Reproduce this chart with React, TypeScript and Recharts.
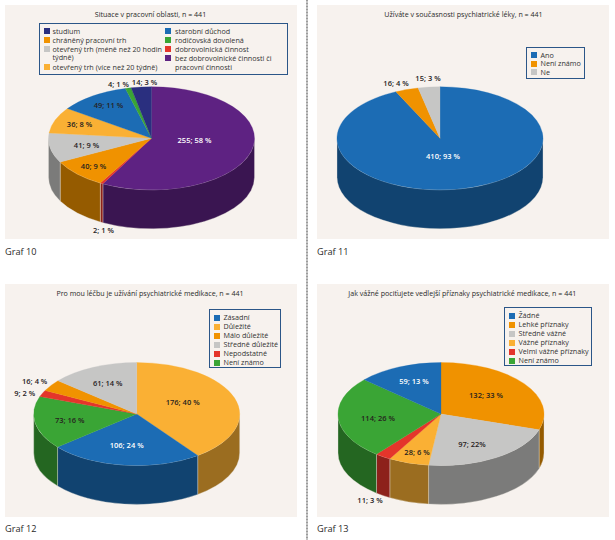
import React from "react";
import { PieChart, Pie, Cell, Legend } from "recharts";

const FONT = '"Open Sans", "Noto Sans", sans-serif';
const NAVY = "#2a2f7f", BLUE = "#1c6cb4", GREEN = "#3aa535", ORANGE = "#f09200", GRAY = "#c6c6c5", YELLOW = "#fab034", RED = "#e4352b", PURPLE = "#5e2282";
const PANEL_BG = "#f7f2ee";

const names10 = ["bez dobrovolnické činnosti či pracovní činnosti", "dobrovolnická činnost", "chráněný pracovní trh", "otevřený trh (méně než 20 hodin týdně)", "otevřený trh (více než 20 týdně)", "starobní důchod", "rodičovská dovolená", "studium"];
const values10 = [255, 2, 40, 41, 36, 49, 4, 14];
const labels10 = ["255; 58 %", "2; 1 %", "40; 9 %", "41; 9 %", "36; 8 %", "49; 11 %", "4; 1 %", "14; 3 %"];
const colors10 = [PURPLE, RED, ORANGE, GRAY, YELLOW, BLUE, GREEN, NAVY];

const names11 = ["Ano", "Není známo", "Ne"];
const values11 = [410, 16, 15];
const labels11 = ["410; 93 %", "16; 4 %", "15; 3 %"];
const colors11 = [BLUE, ORANGE, GRAY];

const names12 = ["Důležité", "Zásadní", "Není známo", "Nepodstatné", "Málo důležité", "Středně důležité"];
const values12 = [176, 106, 73, 9, 16, 61];
const labels12 = ["176; 40 %", "106; 24 %", "73; 16 %", "9; 2 %", "16; 4 %", "61; 14 %"];
const colors12 = [YELLOW, BLUE, GREEN, RED, ORANGE, GRAY];

const names13 = ["Lehké příznaky", "Středně vážné", "Vážné příznaky", "Velmi vážné příznaky", "Není známo", "Žádné"];
const values13 = [132, 97, 28, 11, 114, 59];
const labels13 = ["132; 33 %", "97; 22%", "28; 6 %", "11; 3 %", "114; 26 %", "59; 13 %"];
const colors13 = [ORANGE, GRAY, YELLOW, RED, GREEN, BLUE];

const legend10: [string, string, number, number][] = [
  ["studium", NAVY, 0, 0],
  ["chráněný pracovní trh", ORANGE, 0, 1],
  ["otevřený trh (méně než 20 hodin týdně)", GRAY, 0, 2],
  ["otevřený trh (více než 20 týdně)", YELLOW, 0, 4],
  ["starobní důchod", BLUE, 1, 0],
  ["rodičovská dovolená", GREEN, 1, 1],
  ["dobrovolnická činnost", RED, 1, 2],
  ["bez dobrovolnické činnosti či pracovní činnosti", PURPLE, 1, 3],
];
const legend11 = [["Ano", BLUE], ["Není známo", ORANGE], ["Ne", GRAY]];
const legend12 = [["Zásadní", BLUE], ["Důležité", YELLOW], ["Málo důležité", ORANGE], ["Středně důležité", GRAY], ["Nepodstatné", RED], ["Není známo", GREEN]];
const legend13 = [["Žádné", BLUE], ["Lehké příznaky", ORANGE], ["Středně vážné", GRAY], ["Vážné příznaky", YELLOW], ["Velmi vážné příznaky", RED], ["Není známo", GREEN]];

const labelOffsets10 = [[43, 2], [-48, 92], [-58, 28], [-65, 7], [-72, -14], [-43, -33], [-33, -54], [-7, -56]];
const labelOffsets11 = [[3, 18], [-44, -55], [-12, -60]];
const labelOffsets12 = [[46, -12], [-10, 31], [-67, 6], [-112, -21], [-102, -33], [-29, -31]];
const labelOffsets13 = [[45, -19], [31, 30], [-24, 38], [-71, 86], [-63, 4], [-27, -33]];
const whiteLabels = new Set(["255; 58 %", "410; 93 %", "106; 24 %", "59; 13 %"]);

const RATIO = 0.5;
const DEPTH = 39;
const darken = (hex: string) => {
  const n = parseInt(hex.slice(1), 16);
  const c = (s: number) => Math.round(((n >> s) & 255) * 0.62);
  return `rgb(${c(16)},${c(8)},${c(0)})`;
};

function Slice3D(props: any) {
  const { cx, cy, outerRadius: rx, startAngle: s, endAngle: e, fill } = props;
  const ry = rx * RATIO;
  const pt = (a: number, d = 0) => {
    const r = (a * Math.PI) / 180;
    return `${cx + rx * Math.cos(r)} ${cy - ry * Math.sin(r) + d}`;
  };
  const top = `M${cx} ${cy} L${pt(s)} A${rx} ${ry} 0 ${s - e > 180 ? 1 : 0} 1 ${pt(e)} Z`;
  const hi = Math.min(s, 0);
  const lo = Math.max(e, -180);
  const large = hi - lo > 180 ? 1 : 0;
  const wall = hi > lo
    ? `M${pt(hi)} A${rx} ${ry} 0 ${large} 1 ${pt(lo)} L${pt(lo, DEPTH)} A${rx} ${ry} 0 ${large} 0 ${pt(hi, DEPTH)} Z`
    : null;
  return (
    <g>
      {wall && <path d={wall} fill={darken(fill)} stroke="#e9e4dc" strokeWidth={0.35} />}
      <path d={top} fill={fill} stroke={fill} strokeWidth={0.3} />
    </g>
  );
}

function Panel(p: any) {
  const data = p.names.map((name: string, i: number) => ({ name, value: p.values[i] }));
  const renderLabel = (l: any) => {
    const [dx, dy] = p.offsets[l.index];
    const txt = p.labels[l.index];
    return (
      <text x={l.cx + dx} y={l.cy + dy} textAnchor="middle" dominantBaseline="central" fontFamily={FONT} fontSize={7.5} fontWeight={600} fill={whiteLabels.has(txt) ? "#ffffff" : "#26221e"}>
        {txt}
      </text>
    );
  };
  return (
    <div style={{ position: "absolute", left: p.x, top: p.y, width: 292, height: p.h, background: PANEL_BG }}>
      <div style={{ position: "absolute", left: p.titleX, top: p.titleY, transform: "translate(-50%,-50%)", whiteSpace: "nowrap", font: `7.1px ${FONT}`, color: "#2a2a2a" }}>{p.title}</div>
      <PieChart width={292} height={p.h} margin={{ top: 0, right: 0, bottom: 0, left: 0 }} style={{ position: "absolute", left: 0, top: 0 }}>
        <Legend layout="horizontal" align="center" verticalAlign="middle" wrapperStyle={{ position: "absolute", left: 0, top: 0, width: 292, height: 0, margin: 0 }} content={() => p.legend} />
        <Pie data={data} dataKey="value" nameKey="name" cx={p.cx} cy={p.cy} outerRadius={103} startAngle={90} endAngle={-270} isAnimationActive={false} stroke="none" labelLine={false} label={renderLabel} shape={Slice3D} inactiveShape={Slice3D}>
          {data.map((d: any, i: number) => <Cell key={d.name} fill={p.colors[i]} />)}
        </Pie>
      </PieChart>
      <div style={{ position: "absolute", left: 0, top: p.captionY, transform: "translateY(-50%)", font: `9.2px ${FONT}`, color: "#2a2a2a", whiteSpace: "nowrap" }}>{p.caption}</div>
    </div>
  );
}

const boxStyle = (l: number, t: number, w: number, h: number): React.CSSProperties => ({
  position: "absolute", left: l, top: t, width: w, height: h, boxSizing: "border-box", border: "1px solid #2b5688", background: PANEL_BG, font: `7.2px/9px ${FONT}`, color: "#333",
});

function Rows({ items, left, top, step, swatchLeft, w, h }: any) {
  return (
    <div style={boxStyle(left, top, w, h)}>
      {items.map(([n, c]: string[], i: number) => (
        <div key={n} style={{ position: "absolute", left: 0, top: 3 + i * step, height: 9 }}>
          <span style={{ position: "absolute", left: swatchLeft, top: 1.5, width: 6, height: 6, background: c }} />
          <span style={{ position: "absolute", left: swatchLeft + 10, top: 0, whiteSpace: "nowrap" }}>{n}</span>
        </div>
      ))}
    </div>
  );
}

function Legend10() {
  return (
    <div style={boxStyle(34, 18, 249, 52)}>
      {legend10.map(([n, c, col, row]) => (
        <div key={n}>
          <span style={{ position: "absolute", left: col ? 125 : 3.5, top: 4 + row * 9, width: 6, height: 6, background: c }} />
          <span style={{ position: "absolute", left: col ? 135 : 12.5, top: 3 + row * 9, width: col ? 108 : 113, lineHeight: col && row === 3 ? "9.3px" : "8px" }}>{n}</span>
        </div>
      ))}
    </div>
  );
}

const dividerFill = "repeating-linear-gradient(to bottom, #9c9c9c 0 1.5px, #c4c4c4 1.5px 3px)";

export default function App() {
  return (
    <div style={{ position: "fixed", left: 0, top: 0, width: 615, height: 540, background: "#fff", overflow: "hidden" }}>
      <div style={{ position: "absolute", left: 306, top: 0, height: 540, width: 2, background: dividerFill }} />
      <Panel x={5} y={5} h={234} title="Situace v pracovní oblasti, n = 441" titleX={145.5} titleY={9.3} cx={146.5} cy={133.3} names={names10} values={values10} labels={labels10} colors={colors10} offsets={labelOffsets10} legend={<Legend10 />} caption="Graf 10" captionY={245.5} />
      <Panel x={317} y={5} h={234} title="Užíváte v současnosti psychiatrické léky, n = 441" titleX={146.5} titleY={9} cx={123} cy={133.3} names={names11} values={values11} labels={labels11} colors={colors11} offsets={labelOffsets11} legend={<Rows items={legend11} left={209} top={41.5} step={8.6} swatchLeft={3.5} w={59} h={32} />} caption="Graf 11" captionY={245.5} />
      <Panel x={5} y={284} h={233} title="Pro mou léčbu je užívání psychiatrické medikace, n = 441" titleX={145} titleY={9.3} cx={131.7} cy={130} names={names12} values={values12} labels={labels12} colors={colors12} offsets={labelOffsets12} legend={<Rows items={legend12} left={204} top={25.3} step={9} swatchLeft={3.5} w={72} h={58.5} />} caption="Graf 12" captionY={244} />
      <Panel x={317} y={284} h={233} title="Jak vážné pociťujete vedlejší příznaky psychiatrické medikace, n = 441" titleX={145.3} titleY={9.3} cx={124} cy={130} names={names13} values={values13} labels={labels13} colors={colors13} offsets={labelOffsets13} legend={<Rows items={legend13} left={187} top={23} step={9} swatchLeft={3.5} w={88} h={59} />} caption="Graf 13" captionY={244} />
    </div>
  );
}
